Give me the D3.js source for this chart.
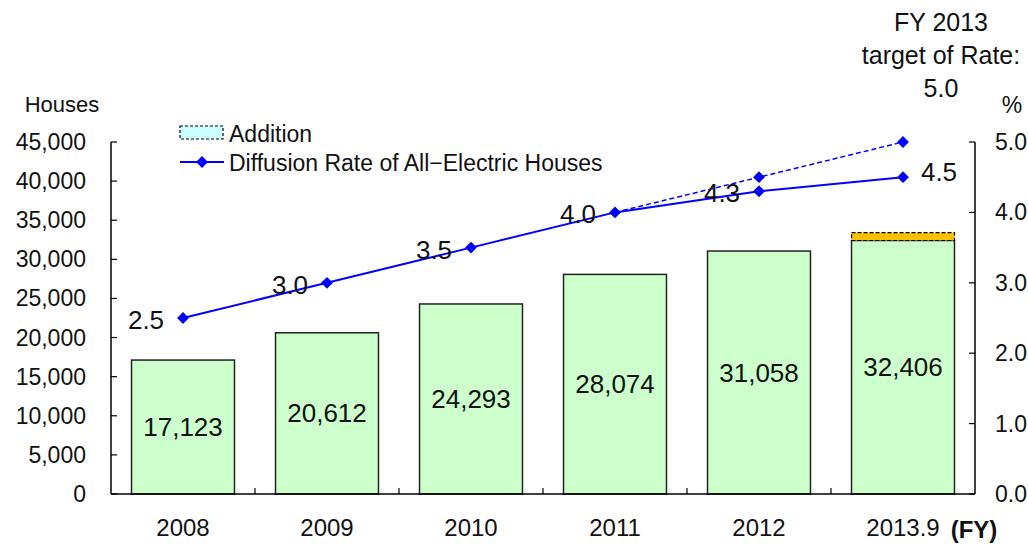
<!DOCTYPE html>
<html>
<head>
<meta charset="utf-8">
<script src="https://cdn.jsdelivr.net/npm/d3@7"></script>
<style>
  body { margin: 0; background: #fff; }
  svg { font-family: "Liberation Sans", Arial, sans-serif; }
</style>
</head>
<body>
<div id="chart"></div>
<script>
const years = ['2008', '2009', '2010', '2011', '2012', '2013.9']
const houses = [17123, 20612, 24293, 28074, 31058, 32406]
const addition = [0, 0, 0, 0, 0, 1000]
const rate = [2.5, 3.0, 3.5, 4.0, 4.3, 4.5]
const targetYears = ['2011', '2012', '2013.9']
const targetRate = [4.0, 4.5, 5.0]
const leftTicks = [0, 5000, 10000, 15000, 20000, 25000, 30000, 35000, 40000, 45000]
const rightTicks = [0, 1, 2, 3, 4, 5]

const chartWidth = 1028
const chartHeight = 544
const margin = { top: 142, right: 53, bottom: 50, left: 111 }
const width = chartWidth - margin.left - margin.right
const height = chartHeight - margin.top - margin.bottom

const svg = d3.select('#chart')
  .append('svg')
    .attr('width', chartWidth)
    .attr('height', chartHeight)

const g = svg.append('g')
  .attr('transform', `translate(${margin.left}, ${margin.top})`)

const x = d3.scaleBand()
  .domain(years)
  .range([0, width])
  .paddingInner(0.285)
  .paddingOuter(0.1425)

const step = x.step()
const cx = d => x(d) + x.bandwidth() / 2

const y = d3.scaleLinear()
  .domain([0, 45000])
  .range([height, 0])

const yr = d3.scaleLinear()
  .domain([0, 5])
  .range([height, 0])

// bars
g.selectAll('rect.bar')
  .data(houses)
  .enter()
  .append('rect')
    .attr('class', 'bar')
    .attr('x', (d, i) => x(years[i]))
    .attr('y', d => y(d))
    .attr('width', x.bandwidth())
    .attr('height', d => height - y(d))
    .attr('fill', '#ccffcc')
    .attr('stroke', '#222')
    .attr('stroke-width', 1.5)

// addition on top
g.selectAll('rect.add')
  .data(addition.map((d, i) => ({ v: d, base: houses[i], year: years[i] })).filter(d => d.v > 0))
  .enter()
  .append('rect')
    .attr('class', 'add')
    .attr('x', d => x(d.year))
    .attr('y', d => y(d.base + d.v))
    .attr('width', x.bandwidth())
    .attr('height', d => y(d.base) - y(d.base + d.v))
    .attr('fill', '#ffc000')
    .attr('stroke', '#000')
    .attr('stroke-width', 1.2)
    .attr('stroke-dasharray', '4,2')

// bar labels
g.selectAll('text.barlabel')
  .data(houses)
  .enter()
  .append('text')
    .attr('class', 'barlabel')
    .attr('x', (d, i) => cx(years[i]))
    .attr('y', d => (y(d) + y(0)) / 2)
    .attr('text-anchor', 'middle')
    .attr('dominant-baseline', 'central')
    .attr('font-size', 26)
    .attr('fill', '#111')
    .text(d => d3.format(',')(d))

// axes
const axisColor = '#000'
g.append('line')
  .attr('x1', 0).attr('x2', 0).attr('y1', 0).attr('y2', height)
  .attr('stroke', axisColor).attr('stroke-width', 1.5)
g.append('line')
  .attr('x1', width).attr('x2', width).attr('y1', 0).attr('y2', height)
  .attr('stroke', axisColor).attr('stroke-width', 1.5)
g.append('line')
  .attr('x1', 0).attr('x2', width).attr('y1', height).attr('y2', height)
  .attr('stroke', axisColor).attr('stroke-width', 1.5)

g.selectAll('line.ltick')
  .data(leftTicks)
  .enter()
  .append('line')
    .attr('x1', 0).attr('x2', 6)
    .attr('y1', d => y(d)).attr('y2', d => y(d))
    .attr('stroke', axisColor).attr('stroke-width', 1.2)

g.selectAll('text.ltick')
  .data(leftTicks)
  .enter()
  .append('text')
    .attr('x', -25)
    .attr('y', d => y(d))
    .attr('text-anchor', 'end')
    .attr('dominant-baseline', 'central')
    .attr('font-size', 23)
    .attr('fill', '#111')
    .text(d => d3.format(',')(d))

g.selectAll('line.rtick')
  .data(rightTicks)
  .enter()
  .append('line')
    .attr('x1', width - 6).attr('x2', width)
    .attr('y1', d => yr(d)).attr('y2', d => yr(d))
    .attr('stroke', axisColor).attr('stroke-width', 1.2)

g.selectAll('text.rtick')
  .data(rightTicks)
  .enter()
  .append('text')
    .attr('x', width + 20)
    .attr('y', d => yr(d))
    .attr('text-anchor', 'start')
    .attr('dominant-baseline', 'central')
    .attr('font-size', 23)
    .attr('fill', '#111')
    .text(d => d3.format('.1f')(d))

// category ticks between bands
g.selectAll('line.xtick')
  .data(years.slice(1))
  .enter()
  .append('line')
    .attr('x1', d => x(d) - (step - x.bandwidth()) / 2)
    .attr('x2', d => x(d) - (step - x.bandwidth()) / 2)
    .attr('y1', height - 6).attr('y2', height)
    .attr('stroke', axisColor).attr('stroke-width', 1.2)

g.selectAll('text.xlabel')
  .data(years)
  .enter()
  .append('text')
    .attr('x', d => cx(d))
    .attr('y', height + 33)
    .attr('text-anchor', 'middle')
    .attr('dominant-baseline', 'central')
    .attr('font-size', 24)
    .attr('fill', '#111')
    .text(d => d)

// lines
const blue = '#0000ff'
const line = d3.line()
  .x(d => cx(d.year))
  .y(d => yr(d.v))

const targetData = targetYears.map((d, i) => ({ year: d, v: targetRate[i] }))
const rateData = years.map((d, i) => ({ year: d, v: rate[i] }))

g.append('path')
  .attr('d', line(targetData))
  .attr('fill', 'none')
  .attr('stroke', blue)
  .attr('stroke-width', 1.5)
  .attr('stroke-dasharray', '5,3')

g.append('path')
  .attr('d', line(rateData))
  .attr('fill', 'none')
  .attr('stroke', blue)
  .attr('stroke-width', 2)

const diamond = d3.symbol().type(d3.symbolSquare).size(70)

g.selectAll('path.tmark')
  .data(targetData.slice(1))
  .enter()
  .append('path')
    .attr('d', diamond)
    .attr('transform', d => `translate(${cx(d.year)}, ${yr(d.v)}) rotate(45)`)
    .attr('fill', blue)

g.selectAll('path.rmark')
  .data(rateData)
  .enter()
  .append('path')
    .attr('d', diamond)
    .attr('transform', d => `translate(${cx(d.year)}, ${yr(d.v)}) rotate(45)`)
    .attr('fill', blue)

// rate labels
g.selectAll('text.ratelabel')
  .data(rateData)
  .enter()
  .append('text')
    .attr('x', (d, i) => i === rateData.length - 1 ? cx(d.year) + 36 : cx(d.year) - 37)
    .attr('y', (d, i) => i === rateData.length - 1 ? yr(d.v) - 5 : yr(d.v) + 2)
    .attr('text-anchor', 'middle')
    .attr('dominant-baseline', 'central')
    .attr('font-size', 26)
    .attr('fill', '#111')
    .text(d => d3.format('.1f')(d.v))

// legend
svg.append('rect')
  .attr('x', 180).attr('y', 126)
  .attr('width', 43).attr('height', 13)
  .attr('fill', '#ccffff')
  .attr('stroke', '#000')
  .attr('stroke-width', 1.2)
  .attr('stroke-dasharray', '3,2')

svg.append('text')
  .attr('x', 229).attr('y', 134)
  .attr('dominant-baseline', 'central')
  .attr('font-size', 23)
  .attr('fill', '#111')
  .text('Addition')

svg.append('line')
  .attr('x1', 180).attr('x2', 224).attr('y1', 162).attr('y2', 162)
  .attr('stroke', blue).attr('stroke-width', 2)

svg.append('path')
  .attr('d', diamond)
  .attr('transform', 'translate(202, 162) rotate(45)')
  .attr('fill', blue)

svg.append('text')
  .attr('x', 229).attr('y', 163)
  .attr('dominant-baseline', 'central')
  .attr('font-size', 23)
  .attr('fill', '#111')
  .text('Diffusion Rate of All\u2212Electric Houses')

// axis titles
svg.append('text')
  .attr('x', 62).attr('y', 104)
  .attr('text-anchor', 'middle')
  .attr('dominant-baseline', 'central')
  .attr('font-size', 22)
  .attr('fill', '#111')
  .text('Houses')

svg.append('text')
  .attr('x', 1012).attr('y', 105)
  .attr('text-anchor', 'middle')
  .attr('dominant-baseline', 'central')
  .attr('font-size', 23)
  .attr('fill', '#111')
  .text('%')

svg.append('text')
  .attr('x', 974).attr('y', 529)
  .attr('text-anchor', 'middle')
  .attr('dominant-baseline', 'central')
  .attr('font-size', 24)
  .attr('font-weight', 'bold')
  .attr('fill', '#111')
  .text('(FY)')

const note = ['FY 2013', 'target of Rate:', '5.0']
svg.selectAll('text.note')
  .data(note)
  .enter()
  .append('text')
    .attr('x', 941)
    .attr('y', (d, i) => 22 + i * 33)
    .attr('text-anchor', 'middle')
    .attr('dominant-baseline', 'central')
    .attr('font-size', 25)
    .attr('fill', '#111')
    .text(d => d)
</script>
</body>
</html>
